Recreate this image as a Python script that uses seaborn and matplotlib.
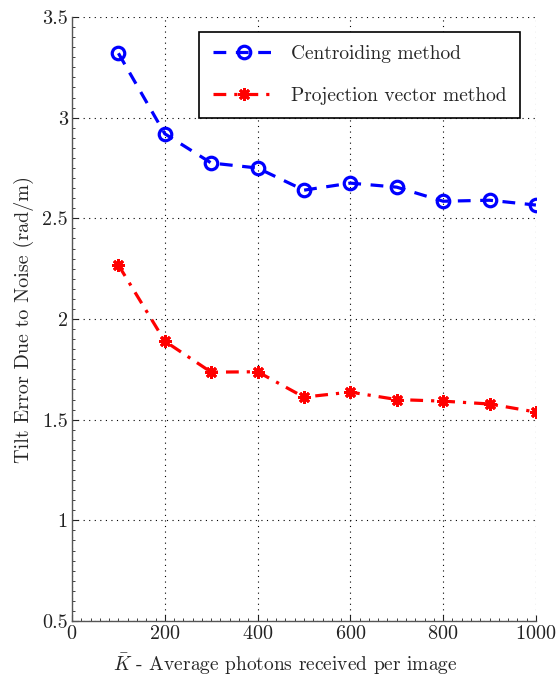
import matplotlib
matplotlib.use("Agg")
import matplotlib.pyplot as plt
import seaborn as sns
import pandas as pd
from matplotlib.ticker import AutoMinorLocator

photons = [100, 200, 300, 400, 500, 600, 700, 800, 900, 1000]
centroiding = [3.32, 2.92, 2.775, 2.75, 2.64, 2.675, 2.655, 2.585, 2.59, 2.566]
projection = [2.268, 1.89, 1.736, 1.738, 1.612, 1.637, 1.60, 1.592, 1.578, 1.538]
labels = ["Centroiding method", "Projection vector method"]
xticks = [0, 200, 400, 600, 800, 1000]
yticks = [0.5, 1, 1.5, 2, 2.5, 3, 3.5]

sns.set_style("white")
plt.rcParams['font.family'] = ['serif']
plt.rcParams['font.serif'] = ['cmr10', 'DejaVu Serif']
plt.rcParams['mathtext.fontset'] = 'cm'
plt.rcParams['axes.formatter.use_mathtext'] = True

df = pd.DataFrame({"x": photons, "c": centroiding, "p": projection})

fig = plt.figure(figsize=(5.6, 6.81), dpi=100)
ax = fig.add_axes([0.1286, 0.0881, 0.8284, 0.8869])

sns.lineplot(data=df, x="x", y="c", ax=ax, color="#0000ff", linestyle=(0, (4, 3)),
             linewidth=2.3, marker="o", markersize=9, markerfacecolor="none",
             markeredgecolor="#0000ff", markeredgewidth=2.3, label=labels[0])
sns.lineplot(data=df, x="x", y="p", ax=ax, color="#ff0000", linestyle=(0, (4, 2.5, 1, 2.5)),
             linewidth=2.3, marker=(8, 2, 0), markersize=9,
             markeredgecolor="#ff0000", markeredgewidth=2.0, label=labels[1])

ax.set_xlim(0, 1000)
ax.set_ylim(0.5, 3.5)
ax.set_xticks(xticks)
ax.set_yticks(yticks)
ax.set_yticklabels(["0.5", "1", "1.5", "2", "2.5", "3", "3.5"])
ax.xaxis.set_minor_locator(AutoMinorLocator(10))
ax.yaxis.set_minor_locator(AutoMinorLocator(10))
ax.tick_params(which="both", direction="in", labelsize=14.5, colors="#222222", pad=3)
ax.tick_params(which="major", length=4, width=0.8)
ax.tick_params(which="minor", length=2, width=0.6)
ax.tick_params(axis="both", which="both", top=False, right=False, bottom=True, left=True)
ax.grid(True, which="major", linestyle=(0, (1, 4)), color="black", linewidth=0.8)

for s in ["top", "right"]:
    ax.spines[s].set_visible(False)
for s in ["left", "bottom"]:
    ax.spines[s].set_color("#555555")
    ax.spines[s].set_linewidth(1.0)

ax.set_xlabel(r"$\bar{K}$ - Average photons received per image", fontsize=14)
ax.xaxis.set_label_coords(0.46, -0.051)
ax.set_ylabel("Tilt Error Due to Noise (rad/m)", fontsize=14.5, labelpad=6)

leg = ax.legend(loc="upper right", bbox_to_anchor=(0.986, 0.992), fontsize=14,
                frameon=True, fancybox=False, framealpha=1, edgecolor="black",
                handlelength=3.2, borderpad=0.7, labelspacing=1.2)
leg.get_frame().set_linewidth(1.2)

fig.savefig("out.png", dpi=100)
